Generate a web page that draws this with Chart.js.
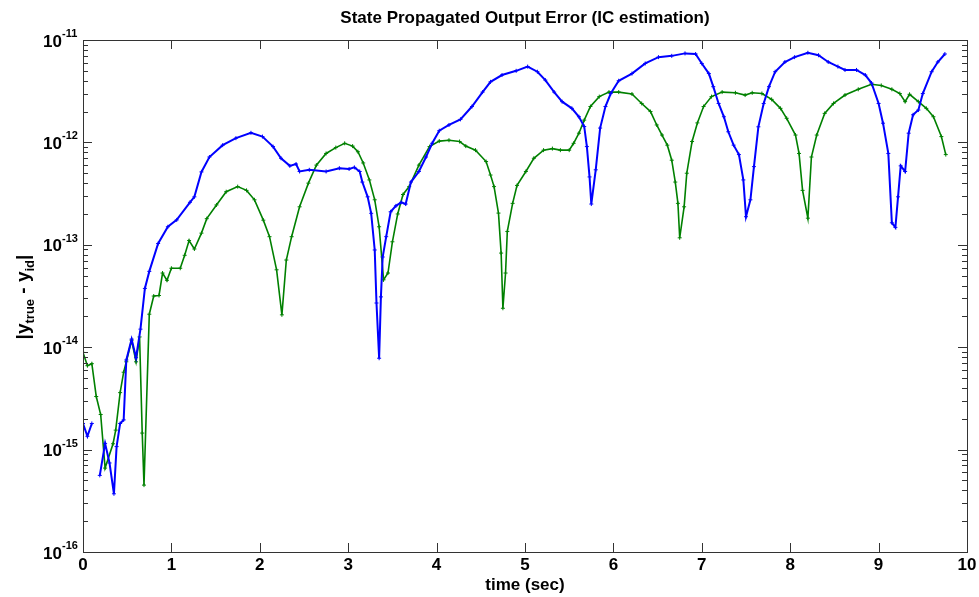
<!DOCTYPE html>
<html lang="en">
<head>
<meta charset="UTF-8">
<title>State Propagated Output Error (IC estimation)</title>
<script src="https://cdn.jsdelivr.net/npm/chart.js"></script>
<style>
  body { margin: 0; background: #fff; }
</style>
</head>
<body>
<canvas id="errChart" width="979" height="597"></canvas>
<script>
  // blue trace (time, error); null = gap in the line
  const blueT = [0, 0.05, 0.1, 0.15, 0.19, 0.25, 0.3, 0.35, 0.38, 0.42, 0.46, 0.49, 0.55, 0.6, 0.65, 0.7, 0.75, 0.85, 0.96, 1.06,
    1.21, 1.26, 1.34, 1.43, 1.58, 1.73, 1.9, 2.03, 2.15, 2.24, 2.34, 2.41, 2.45, 2.56, 2.75, 2.9, 3.01, 3.07, 3.13, 3.16,
    3.22, 3.26, 3.3, 3.32, 3.35, 3.37, 3.39, 3.43, 3.48, 3.54, 3.6, 3.65, 3.71, 3.8, 3.88, 3.95, 4.03, 4.14, 4.27, 4.4,
    4.52, 4.61, 4.74, 4.9, 5.03, 5.14, 5.23, 5.33, 5.42, 5.53, 5.61, 5.67, 5.7, 5.73, 5.75, 5.8, 5.85, 5.91, 5.97, 6.06,
    6.21, 6.36, 6.51, 6.66, 6.81, 6.93, 7.0, 7.08, 7.13, 7.19, 7.25, 7.3, 7.36, 7.42, 7.47, 7.5, 7.55, 7.59, 7.64, 7.7,
    7.76, 7.83, 7.94, 8.05, 8.2, 8.32, 8.43, 8.54, 8.62, 8.75, 8.85, 8.92, 9.0, 9.05, 9.11, 9.15, 9.19, 9.22, 9.25, 9.3,
    9.34, 9.39, 9.45, 9.5, 9.6, 9.67, 9.75];
  const blueErr = [1.8e-15, 1.35e-15, 1.8e-15, null, 5.6e-16, 1.15e-15, 7.4e-16, 3.7e-16, 1.07e-15, 1.8e-15, 1.95e-15, 7.5e-15, 1.2e-14, 7.9e-15, 1.5e-14, 3.75e-14, 5.5e-14, 1.03e-13, 1.5e-13, 1.75e-13,
    2.6e-13, 2.94e-13, 5.15e-13, 7.2e-13, 9.4e-13, 1.1e-12, 1.24e-12, 1.14e-12, 9.1e-13, 7.0e-13, 5.9e-13, 6.15e-13, 5.2e-13, 5.4e-13, 5.2e-13, 5.6e-13, 5.5e-13, 5.7e-13, 5.2e-13, 4.1e-13,
    2.94e-13, 2.03e-13, 8.9e-14, 2.7e-14, 7.8e-15, 3.1e-14, 7.6e-14, 1.2e-13, 2.1e-13, 2.4e-13, 2.6e-13, 2.5e-13, 4.1e-13, 5.2e-13, 7.2e-13, 9.8e-13, 1.3e-12, 1.48e-12, 1.68e-12, 2.24e-12,
    3.1e-12, 3.9e-12, 4.55e-12, 5.0e-12, 5.5e-12, 4.9e-12, 4.06e-12, 3.1e-12, 2.5e-12, 2.15e-12, 1.78e-12, 1.43e-12, 9.1e-13, 4.6e-13, 2.5e-13, 5.4e-13, 1.38e-12, 2.24e-12, 3.0e-12, 4.0e-12,
    4.7e-12, 5.9e-12, 6.8e-12, 7.0e-12, 7.4e-12, 7.3e-12, 5.9e-12, 4.7e-12, 3.5e-12, 2.4e-12, 1.78e-12, 1.27e-12, 9.4e-13, 7.6e-13, 4.3e-13, 1.88e-13, 2.75e-13, 5.8e-13, 1.42e-12, 2.4e-12,
    3.5e-12, 4.9e-12, 6.1e-12, 6.8e-12, 7.5e-12, 7.1e-12, 6.1e-12, 5.5e-12, 5.1e-12, 5.1e-12, 4.55e-12, 3.8e-12, 2.4e-12, 1.54e-12, 7.8e-13, 1.64e-13, 1.48e-13, 2.94e-13, 5.9e-13, 5.2e-13,
    1.23e-12, 1.86e-12, 2.07e-12, 3.0e-12, 4.9e-12, 6.1e-12, 7.3e-12];

  // green trace
  const greenT = [0, 0.05, 0.1, 0.15, 0.2, 0.25, 0.34, 0.37, 0.42, 0.46, 0.49, 0.55, 0.6, 0.64, 0.67, 0.69, 0.75, 0.8, 0.86, 0.9,
    0.95, 1.0, 1.1, 1.15, 1.2, 1.26, 1.34, 1.4, 1.51, 1.62, 1.75, 1.85, 1.94, 2.04, 2.11, 2.19, 2.25, 2.3, 2.36, 2.45,
    2.55, 2.64, 2.75, 2.86, 2.96, 3.05, 3.11, 3.17, 3.24, 3.3, 3.35, 3.4, 3.45, 3.5, 3.56, 3.62, 3.69, 3.8, 3.92, 4.03,
    4.14, 4.26, 4.33, 4.44, 4.56, 4.61, 4.65, 4.7, 4.73, 4.75, 4.78, 4.8, 4.86, 4.91, 5.01, 5.1, 5.21, 5.31, 5.4, 5.5,
    5.55, 5.61, 5.67, 5.74, 5.84, 5.95, 6.06, 6.21, 6.32, 6.42, 6.49, 6.55, 6.61, 6.66, 6.7, 6.73, 6.75, 6.8, 6.83, 6.89,
    6.95, 7.02, 7.11, 7.23, 7.38, 7.49, 7.57, 7.68, 7.79, 7.89, 7.96, 8.06, 8.1, 8.14, 8.2, 8.24, 8.3, 8.39, 8.49, 8.62,
    8.77, 8.92, 9.03, 9.15, 9.24, 9.3, 9.35, 9.45, 9.54, 9.62, 9.71, 9.76];
  const greenErr = [8.9e-15, 6.6e-15, 6.9e-15, 3.3e-15, 2.2e-15, 6.6e-16, 1.14e-15, 1.55e-15, 3.6e-15, 5.7e-15, 7.2e-15, 1.17e-14, 7.2e-15, 1.26e-14, 1.45e-15, 4.5e-16, 2.1e-14, 3.16e-14, 3.2e-14, 5.3e-14,
    4.5e-14, 5.9e-14, 5.9e-14, 7.9e-14, 1.1e-13, 9.1e-14, 1.3e-13, 1.8e-13, 2.45e-13, 3.3e-13, 3.7e-13, 3.4e-13, 2.75e-13, 1.74e-13, 1.2e-13, 5.7e-14, 2.07e-14, 7.1e-14, 1.2e-13, 2.35e-13,
    4.0e-13, 6.0e-13, 7.8e-13, 8.9e-13, 9.8e-13, 9.2e-13, 8.1e-13, 6.3e-13, 4.3e-13, 2.75e-13, 1.5e-13, 4.55e-14, 5.3e-14, 1.07e-13, 2.0e-13, 3.1e-13, 3.7e-13, 6.0e-13, 9.1e-13, 1.03e-12,
    1.05e-12, 1.02e-12, 9.2e-13, 8.4e-13, 6.5e-13, 4.8e-13, 3.7e-13, 2.04e-13, 8.3e-14, 2.4e-14, 5.3e-14, 1.35e-13, 2.54e-13, 3.8e-13, 5.2e-13, 7.0e-13, 8.4e-13, 8.7e-13, 8.4e-13, 8.4e-13,
    9.8e-13, 1.23e-12, 1.65e-12, 2.24e-12, 2.8e-12, 3.1e-12, 3.1e-12, 2.97e-12, 2.4e-12, 2.0e-12, 1.48e-12, 1.18e-12, 9.4e-13, 6.7e-13, 4.1e-13, 2.54e-13, 1.17e-13, 2.35e-13, 5.0e-13, 1.02e-12,
    1.55e-12, 2.24e-12, 2.8e-12, 3.1e-12, 3.05e-12, 2.9e-12, 3.05e-12, 3.0e-12, 2.63e-12, 2.15e-12, 1.72e-12, 1.18e-12, 7.8e-13, 3.4e-13, 1.82e-13, 7.2e-13, 1.18e-12, 1.92e-12, 2.4e-12, 2.9e-12,
    3.3e-12, 3.7e-12, 3.6e-12, 3.3e-12, 3.0e-12, 2.5e-12, 2.95e-12, 2.5e-12, 2.15e-12, 1.78e-12, 1.14e-12, 7.6e-13];

  const xTicks = [0, 1, 2, 3, 4, 5, 6, 7, 8, 9, 10];
  const yExponents = [-16, -15, -14, -13, -12, -11];

  const FONT = '"Liberation Sans Narrow", "Liberation Sans", Arial, sans-serif';

  function toPoints(ts, vs) {
    return ts.map((t, i) => ({ x: t, y: vs[i] }));
  }

  // MATLAB-like box, inward ticks and text
  const matlabAxes = {
    id: 'matlabAxes',
    afterDraw(chart) {
      const ctx = chart.ctx;
      const a = chart.chartArea;
      const xs = chart.scales.x;
      const ys = chart.scales.y;
      ctx.save();
      ctx.strokeStyle = '#333';
      ctx.lineWidth = 1;
      ctx.strokeRect(a.left + 0.5, a.top + 0.5, a.right - a.left, a.bottom - a.top);

      ctx.beginPath();
      xTicks.forEach(v => {
        const px = Math.round(xs.getPixelForValue(v)) + 0.5;
        ctx.moveTo(px, a.bottom); ctx.lineTo(px, a.bottom - 9);
        ctx.moveTo(px, a.top); ctx.lineTo(px, a.top + 9);
      });
      yExponents.forEach((e, i) => {
        const py = Math.round(ys.getPixelForValue(Math.pow(10, e))) + 0.5;
        ctx.moveTo(a.left, py); ctx.lineTo(a.left + 9, py);
        ctx.moveTo(a.right, py); ctx.lineTo(a.right - 9, py);
        if (i < yExponents.length - 1) {
          for (let m = 2; m <= 9; m++) {
            const my = Math.round(ys.getPixelForValue(m * Math.pow(10, e))) + 0.5;
            ctx.moveTo(a.left, my); ctx.lineTo(a.left + 5, my);
            ctx.moveTo(a.right, my); ctx.lineTo(a.right - 5, my);
          }
        }
      });
      ctx.stroke();

      ctx.fillStyle = '#000';
      // x tick labels
      ctx.font = 'bold 17px ' + FONT;
      ctx.textAlign = 'center';
      ctx.textBaseline = 'top';
      xTicks.forEach(v => ctx.fillText(String(v), xs.getPixelForValue(v), a.bottom + 5));

      // y tick labels 10^n
      yExponents.forEach(e => {
        const py = ys.getPixelForValue(Math.pow(10, e));
        ctx.font = 'bold 17px ' + FONT;
        ctx.textAlign = 'right';
        ctx.textBaseline = 'middle';
        ctx.fillText('10', 62, py + 2);
        ctx.font = 'bold 11px ' + FONT;
        ctx.textAlign = 'left';
        ctx.fillText(String(e), 62, py - 6);
      });

      // title and x label
      ctx.font = 'bold 17px ' + FONT;
      ctx.textAlign = 'center';
      ctx.textBaseline = 'middle';
      ctx.fillText('State Propagated Output Error (IC estimation)', (a.left + a.right) / 2, 18);
      ctx.fillText('time (sec)', (a.left + a.right) / 2, 585);

      // y label |y_true - y_id|
      ctx.translate(24, 297);
      ctx.rotate(-Math.PI / 2);
      const parts = [['|y', 19, 0], ['true', 13, 6], [' - y', 19, 0], ['id', 13, 6], ['|', 19, 0]];
      let w = 0;
      parts.forEach(p => { ctx.font = 'bold ' + p[1] + 'px ' + FONT; w += ctx.measureText(p[0]).width; });
      let cx = -w / 2;
      ctx.textAlign = 'left';
      ctx.textBaseline = 'middle';
      parts.forEach(p => {
        ctx.font = 'bold ' + p[1] + 'px ' + FONT;
        ctx.fillText(p[0], cx, p[2]);
        cx += ctx.measureText(p[0]).width;
      });
      ctx.restore();
    }
  };

  new Chart(document.getElementById('errChart'), {
    type: 'scatter',
    data: {
      datasets: [{
        data: toPoints(blueT, blueErr),
        showLine: true,
        spanGaps: false,
        borderColor: '#0000ff',
        backgroundColor: '#0000ff',
        borderWidth: 2,
        pointStyle: 'cross',
        pointRadius: 2,
        pointBorderWidth: 1
      }, {
        data: toPoints(greenT, greenErr),
        showLine: true,
        borderColor: '#008000',
        backgroundColor: '#008000',
        borderWidth: 1.6,
        pointStyle: 'cross',
        pointRadius: 2,
        pointBorderWidth: 1
      }]
    },
    options: {
      responsive: false,
      animation: false,
      layout: { padding: { left: 83, right: 12, top: 40, bottom: 45 } },
      plugins: { legend: { display: false }, tooltip: { enabled: false } },
      scales: {
        x: { type: 'linear', min: 0, max: 10, display: false },
        y: { type: 'logarithmic', min: 1e-16, max: 1e-11, display: false }
      }
    },
    plugins: [matlabAxes]
  });
</script>
</body>
</html>
